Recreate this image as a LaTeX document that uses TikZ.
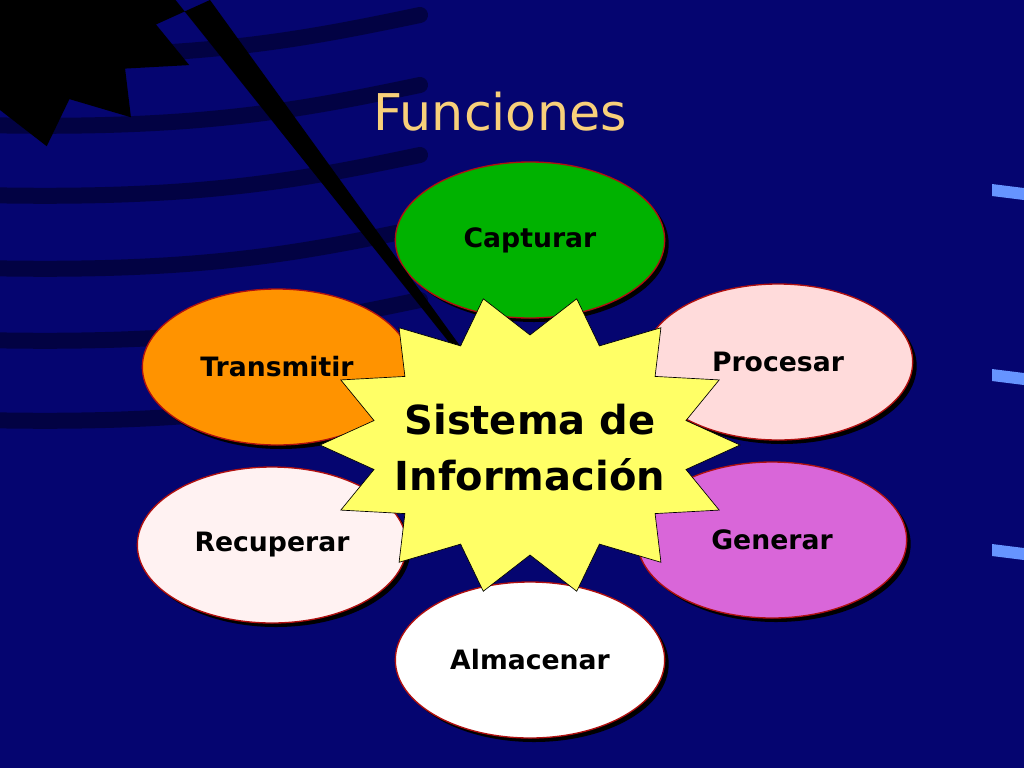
\documentclass[tikz,border=0pt]{standalone}
\usepackage{fontspec}
\setmainfont{DejaVu Sans}
\usetikzlibrary{shapes.geometric,shadows}
\pgfdeclarelayer{background}
\pgfsetlayers{background,main}
\definecolor{navy}{HTML}{050570}
\definecolor{streak}{HTML}{020238}
\definecolor{ringred}{HTML}{FF3300}
\definecolor{edgered}{HTML}{B01010}
\definecolor{titlecol}{HTML}{F8D07A}
\definecolor{starfill}{HTML}{FFFF66}
\tikzset{
  func/.style={ellipse, draw=edgered, line width=1pt, minimum width=202pt,
    minimum height=117pt, font=\bfseries\fontsize{20}{24}\selectfont,
    general shadow={fill=black, shadow xshift=3pt, shadow yshift=-3pt}},
  ring/.style={ringred, line width=6pt}
}
\begin{document}
\begin{tikzpicture}[x=0.75pt,y=-0.75pt]
	% background
	\fill[navy] (0,0) rectangle (1024,768);
	\useasboundingbox (0,0) rectangle (1024,768);
	\foreach \yy in {55,125,195,268,340,420} {
		\draw[streak, line width=12pt, line cap=round, opacity=0.8]
		(-20,\yy) .. controls (200,\yy+5) and (300,\yy-15) .. (420,\yy-40);
	}
	\foreach \yy in {190,375,550} {
		\fill[blue!70!cyan!60] (992,\yy-6) -- (1024,\yy-2) -- (1024,\yy+10) -- (992,\yy+6) -- cycle;
	}
	% title
	\node (title) at (500,112) {\textcolor{titlecol}{\fontsize{38}{44}\selectfont Funciones}};
	% functions
	\node[func, fill=green!70!black] (cap) at (530,240) {Capturar};
	\node[func, fill=pink!70!red!30] (pro) at (778,362) {Procesar};
	\node[func, fill=violet!50!magenta!60] (gen) at (772,540) {Generar};
	\node[func, fill=white] (alm) at (530,660) {Almacenar};
	\node[func, fill=white!95!red] (rec) at (272,545) {Recuperar};
	\node[func, fill=orange!85!yellow] (tra) at (277,367) {Transmitir};
	\begin{pgfonlayer}{background}
		\draw[ring] (cap) -- (pro) -- (gen) -- (alm) -- (rec) -- (tra) -- (cap);
	\end{pgfonlayer}
	% star
	\fill[black] (536,451) \foreach \a [evaluate=\a as \b using \a+12.857] in {0,25.714,...,340} {
		-- (\a:210 and 150) -- (\b:160 and 110)} -- cycle;
	\draw[fill=starfill, draw=edgered] (530,445) \foreach \a [evaluate=\a as \b using \a+12.857] in {0,25.714,...,340} {
		-- ++(0,0) (530,445)} ;
	\filldraw[fill=starfill, draw=black, line width=0.5pt] ([shift={(0:210 and 150)}]530,445)
		\foreach \a [evaluate=\a as \b using \a+12.857] in {0,25.714,...,340} {
		-- ([shift={(\a:210 and 150)}]530,445) -- ([shift={(\b:160 and 110)}]530,445)} -- cycle;
	\node[align=center, font=\bfseries\fontsize{30}{42}\selectfont] (sis) at (530,448) {Sistema de\\Información};
\end{tikzpicture}
\end{document}
